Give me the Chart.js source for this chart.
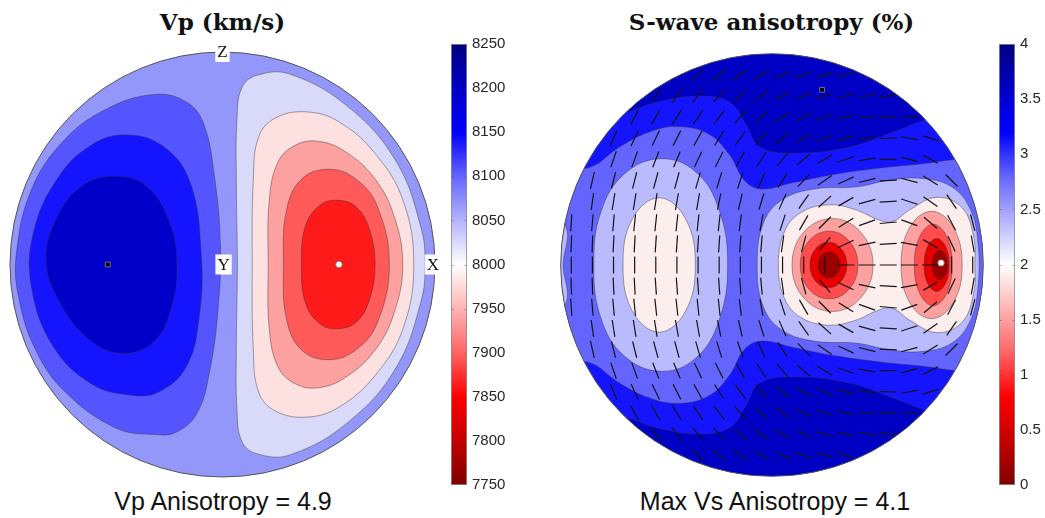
<!DOCTYPE html>
<html><head><meta charset="utf-8">
<script src="https://cdn.jsdelivr.net/npm/chart.js@4.4.0/dist/chart.umd.min.js"></script>
<style>
html,body{margin:0;padding:0;background:#fff;width:1045px;height:518px;overflow:hidden;position:relative;}
canvas{position:absolute;}
.ttl{position:absolute;text-align:center;font-family:"DejaVu Serif",serif;font-weight:bold;font-size:23px;line-height:23px;color:#111;white-space:nowrap;}
.cap{position:absolute;text-align:center;font-family:"Liberation Sans",Arial,sans-serif;font-size:25px;line-height:25px;color:#111;white-space:nowrap;}
</style></head><body>
<div class="ttl" style="left:0;width:445px;top:10px;">Vp (km/s)</div>
<div class="ttl" style="left:549px;width:445px;top:10px;">S-wave anisotropy (%)</div>
<div class="cap" style="left:0;width:446px;top:489px;">Vp Anisotropy = 4.9</div>
<div class="cap" style="left:552px;width:446px;top:489px;">Max Vs Anisotropy = 4.1</div>
<canvas id="vp" width="441" height="441" style="left:2px;top:44px;"></canvas>
<canvas id="vpbar" width="67" height="470" style="left:445px;top:30px;"></canvas>
<canvas id="vs" width="442" height="442" style="left:551px;top:44px;"></canvas>
<canvas id="vsbar" width="67" height="470" style="left:993px;top:30px;"></canvas>
<script>
// ---------------- DATA ----------------
const vpTicks = [7750,7800,7850,7900,7950,8000,8050,8100,8150,8200,8250];
const vsTicks = [0,0.5,1,1.5,2,2.5,3,3.5,4];

// Vp contour bands (lower bound, m/s) in drawing order
const vpLevels = [8050, 8100, 8150, 8200, 8000, 7950, 7900, 7850, 7800];
const vpBand8050 = [[-1.1,-1.1],[1.1,-1.1],[1.1,1.1],[-1.1,1.1]];
const vpBand8100 = [[-0.32,0.80],[-0.17,0.765],[-0.09,0.665],[-0.04,0.43],[-0.01,0.1],[-0.02,-0.2],[-0.06,-0.5],[-0.12,-0.7],[-0.22,-0.79],[-0.32,-0.80],[-0.5,-0.77],[-0.74,-0.6],[-0.88,-0.4],[-0.96,-0.15],[-0.97,0.05],[-0.9,0.35],[-0.75,0.58],[-0.55,0.73]];
const vpBand8150 = [[-0.45,0.61],[-0.27,0.55],[-0.15,0.38],[-0.1,0.05],[-0.11,-0.25],[-0.17,-0.48],[-0.3,-0.6],[-0.43,-0.615],[-0.62,-0.56],[-0.8,-0.38],[-0.9,-0.1],[-0.89,0.15],[-0.78,0.4],[-0.62,0.56]];
const vpBand8200 = [[-0.51,0.415],[-0.36,0.37],[-0.25,0.2],[-0.215,0.0],[-0.24,-0.2],[-0.32,-0.36],[-0.47,-0.418],[-0.63,-0.35],[-0.77,-0.17],[-0.83,0.02],[-0.78,0.22],[-0.66,0.37]];
const vpBand8000 = [[0.07,0.0],[0.065,0.4],[0.068,0.68],[0.09,0.83],[0.16,0.89],[0.32,0.895],[0.6,0.735],[0.82,0.48],[0.935,0.17],[0.953,0.0],[0.935,-0.17],[0.82,-0.48],[0.6,-0.735],[0.32,-0.895],[0.16,-0.89],[0.09,-0.83],[0.068,-0.68],[0.065,-0.4]];
const vpBand7950 = [[0.14,0.0],[0.145,0.4],[0.17,0.6],[0.25,0.69],[0.4,0.718],[0.55,0.67],[0.72,0.52],[0.85,0.3],[0.9,0.0],[0.85,-0.3],[0.72,-0.52],[0.55,-0.67],[0.4,-0.718],[0.25,-0.69],[0.17,-0.6],[0.145,-0.4]];
const vpBand7900 = [[0.215,0],[0.22,0.3],[0.26,0.48],[0.34,0.56],[0.45,0.58],[0.58,0.53],[0.72,0.4],[0.81,0.22],[0.848,0],[0.81,-0.22],[0.72,-0.4],[0.58,-0.53],[0.45,-0.58],[0.34,-0.56],[0.26,-0.48],[0.22,-0.3]];
const vpBand7850 = [[0.287,0],[0.3,0.25],[0.37,0.4],[0.5,0.448],[0.63,0.4],[0.73,0.27],[0.785,0],[0.73,-0.27],[0.63,-0.4],[0.5,-0.448],[0.37,-0.4],[0.3,-0.25]];
const vpBand7800 = [[0.372,0],[0.39,0.18],[0.46,0.28],[0.545,0.302],[0.63,0.27],[0.69,0.17],[0.718,0],[0.69,-0.17],[0.63,-0.27],[0.545,-0.302],[0.46,-0.28],[0.39,-0.18]];
const vpMaxDir = [-0.54, 0.0];
const vpMinDir = [0.548, 0.0];
const vpAxisLabels = ['Z','Y','X'];
const vpAxisDirs = [[0,1],[0.005,0],[0.99,0]];

// S-wave anisotropy contour bands (lower bound, %) in drawing order
const vsLevels = [3, 3.5, 3.5, 2.5, 2, 2, 2, 1.5, 1.5, 1, 1, 0.5, 0.5, 0.25, 0.25, 0, 0];
const vsBase = [[-1.1,-1.1],[1.1,-1.1],[1.1,1.1],[-1.1,1.1]];
const vsTopCap = [[-0.72,0.72],[-0.55,0.77],[-0.35,0.8],[-0.2,0.77],[-0.12,0.66],[-0.06,0.56],[0.1,0.53],[0.37,0.56],[0.6,0.64],[0.74,0.69],[1.1,0.75],[1.1,1.1],[-1.1,1.1],[-1.1,0.75]];
const vsBottomCap = [[-0.72,-0.72],[-0.55,-0.77],[-0.35,-0.8],[-0.2,-0.77],[-0.12,-0.66],[-0.06,-0.56],[0.1,-0.53],[0.37,-0.56],[0.6,-0.64],[0.74,-0.69],[1.1,-0.75],[1.1,-1.1],[-1.1,-1.1],[-1.1,-0.75]];
const vsMidBand = [[-1.1,0.45],[-0.87,0.46],[-0.72,0.56],[-0.58,0.63],[-0.445,0.655],[-0.3,0.62],[-0.2,0.52],[-0.13,0.4],[-0.05,0.36],[0.1,0.39],[0.3,0.43],[0.52,0.46],[0.72,0.48],[0.87,0.5],[1.1,0.52],[1.1,-0.52],[0.87,-0.5],[0.72,-0.48],[0.52,-0.46],[0.3,-0.43],[0.1,-0.39],[-0.05,-0.36],[-0.13,-0.4],[-0.2,-0.52],[-0.3,-0.62],[-0.445,-0.655],[-0.58,-0.63],[-0.72,-0.56],[-0.87,-0.46],[-1.1,-0.45]];
const vsEdgeSliver = [[-1.1,0.3],[-0.975,0.18],[-0.988,0],[-0.975,-0.18],[-1.1,-0.3]];
const vsLeftLobe = [[-0.843,0],[-0.81,0.25],[-0.7,0.43],[-0.526,0.503],[-0.36,0.44],[-0.25,0.26],[-0.21,0],[-0.25,-0.26],[-0.36,-0.44],[-0.526,-0.503],[-0.7,-0.43],[-0.81,-0.25]];
const vsRightLobe = [[-0.07,0],[-0.04,0.2],[0.05,0.31],[0.2,0.36],[0.4,0.37],[0.55,0.4],[0.7,0.41],[0.85,0.37],[0.94,0.26],[0.975,0.1],[0.975,-0.1],[0.94,-0.26],[0.85,-0.37],[0.7,-0.41],[0.55,-0.4],[0.4,-0.37],[0.2,-0.36],[0.05,-0.31],[-0.04,-0.2]];
const vsLeftCore = [[-0.705,0],[-0.66,0.22],[-0.534,0.318],[-0.41,0.22],[-0.363,0],[-0.41,-0.22],[-0.534,-0.318],[-0.66,-0.22]];
const vsRightCore = [[0.03,0],[0.06,0.16],[0.14,0.25],[0.27,0.285],[0.4,0.26],[0.5,0.215],[0.57,0.205],[0.65,0.26],[0.78,0.32],[0.9,0.27],[0.955,0.13],[0.96,0],[0.955,-0.13],[0.9,-0.27],[0.78,-0.32],[0.65,-0.26],[0.57,-0.205],[0.5,-0.215],[0.4,-0.26],[0.27,-0.285],[0.14,-0.25],[0.06,-0.16]];
const vsPinkL = [[0.478,0],[0.42,0.155],[0.286,0.22],[0.15,0.155],[0.095,0],[0.15,-0.155],[0.286,-0.22],[0.42,-0.155]];
const vsPinkR = [[0.9,0],[0.857,0.18],[0.755,0.254],[0.653,0.18],[0.611,0],[0.653,-0.18],[0.755,-0.254],[0.857,-0.18]];
const vsSalmonL = [[0.406,0],[0.366,0.113],[0.27,0.16],[0.174,0.113],[0.134,0],[0.174,-0.113],[0.27,-0.16],[0.366,-0.113]];
const vsSalmonR = [[0.852,0],[0.826,0.136],[0.763,0.193],[0.7,0.136],[0.674,0],[0.7,-0.136],[0.763,-0.193],[0.826,-0.136]];
const vsRedL = [[0.354,0],[0.328,0.076],[0.267,0.108],[0.206,0.076],[0.18,0],[0.206,-0.076],[0.267,-0.108],[0.328,-0.076]];
const vsRedR = [[0.838,0],[0.821,0.088],[0.779,0.125],[0.737,0.088],[0.72,0],[0.737,-0.088],[0.779,-0.125],[0.821,-0.088]];
const vsDarkL = [[0.322,0],[0.307,0.044],[0.27,0.062],[0.233,0.044],[0.218,0],[0.233,-0.044],[0.27,-0.062],[0.307,-0.044]];
const vsDarkR = [[0.83,0],[0.819,0.05],[0.794,0.07],[0.769,0.05],[0.758,0],[0.769,-0.05],[0.794,-0.07],[0.819,-0.05]];
const vsMaxDir = [0.237, 0.829];
const vsMinDir = [0.8, 0.01];

// fast-shear polarisation directions (degrees, counter-clockwise from east)
const vsTickX = [-0.95,-0.85,-0.75,-0.65,-0.55,-0.45,-0.35,-0.25,-0.15,-0.05,0.05,0.15,0.25,0.35,0.45,0.55,0.65,0.75,0.85,0.95];
const vsTickY = [0.9,0.8,0.7,0.6,0.5,0.4,0.3,0.2,0.1,0,-0.1,-0.2,-0.3,-0.4,-0.5,-0.6,-0.7,-0.8,-0.9];
const n = null;
const vsTickAngles = [
 [n,n,n,n,n,n,45,42,38,32,26,21,17,14,n,n,n,n,n,n],
 [n,n,n,n,56,53,50,46,42,37,29,23,17,12,7,4,n,n,n,n],
 [n,n,n,62,60,58,56,52,48,43,35,26,18,11,6,2,176,n,n,n],
 [n,n,66,65,64,63,61,58,54,49,42,33,24,16,9,2,170,162,n,n],
 [n,n,71,70,69,67,65,63,61,57,50,40,30,20,10,178,165,152,n,n],
 [n,77,76,76,75,75,74,73,71,67,58,46,35,25,14,3,165,148,135,n],
 [n,82,81,81,81,80,80,79,77,73,66,55,42,30,15,3,162,145,125,n],
 [86,85,85,84,84,84,84,84,83,80,72,60,45,32,20,5,160,140,118,105],
 [88,88,87,87,86,86,86,86,86,85,82,75,50,25,12,3,170,150,115,100],
 [90,90,90,90,90,90,90,90,90,90,90,90,90,0,0,0,0,0,90,90],
 [92,92,93,93,94,94,94,94,94,95,98,105,130,155,168,177,10,30,65,80],
 [94,95,95,96,96,96,96,96,97,100,108,120,135,148,160,175,20,40,62,75],
 [n,98,99,99,99,100,100,101,103,107,114,125,138,150,165,177,18,35,55,n],
 [n,103,104,104,105,105,106,107,109,113,122,134,145,155,166,177,15,32,45,n],
 [n,n,109,110,111,113,115,117,119,123,130,140,150,160,170,2,15,28,n,n],
 [n,n,114,115,116,117,119,122,126,131,138,147,156,164,171,178,10,18,n,n],
 [n,n,n,118,120,122,124,128,132,137,145,154,162,169,174,178,4,n,n,n],
 [n,n,n,n,124,127,130,134,138,143,151,157,163,168,173,176,n,n,n,n],
 [n,n,n,n,n,n,135,138,142,148,154,159,163,166,n,n,n,n,n,n]
];

// ---------------- STYLE ----------------
const vpBandColors = {8200:'#0000c8',8150:'#1414ff',8100:'#5555ff',8050:'#9497fa',8000:'#d9daf9',7950:'#fde0e0',7900:'#fca0a0',7850:'#ff5a5a',7800:'#ff1a1a'};
const vsBandColors = {3.5:'#0000c4',3:'#1414ff',2.5:'#6464ff',2:'#babaff',1.5:'#fdeeee',1:'#fca0a0',0.5:'#ff4c4c',0.25:'#e80000',0:'#9a0000'};
const cmapStops = [[0,'#7f0000'],[0.1,'#c40000'],[0.2,'#ff0000'],[0.3,'#ff6464'],[0.4,'#ffb4b4'],[0.5,'#ffffff'],[0.6,'#b4b4ff'],[0.7,'#6464ff'],[0.8,'#0000ff'],[0.9,'#0000c4'],[1,'#00007f']];

// ---------------- BUILD ----------------
function bandDataset(pts, color, order, smooth) {
  return {
    type: 'line', data: pts.map(p => ({x: p[0], y: p[1]})), closed: true,
    fill: 'shape', backgroundColor: color,
    borderColor: smooth ? 'rgba(50,50,50,0.55)' : 'rgba(0,0,0,0)', borderWidth: smooth ? 0.8 : 0,
    pointRadius: 0, pointHoverRadius: 0, tension: smooth ? 0.4 : 0,
    spanGaps: true, capBezierPoints: false, order: order
  };
}
const loopPlugin = {
  id: 'loopShapes',
  afterDatasetUpdate(chart, args) {
    const ds = chart.data.datasets[args.index];
    const line = args.meta.dataset;
    if (ds.closed && line) {
      line._loop = true; line._fullLoop = true;
      line._pointsUpdated = false; delete line._segments; line._path = undefined;
    }
  }
};
const circlePlugin = {
  id: 'circleClip',
  beforeDatasetsDraw(chart) {
    const {ctx, scales: {x, y}} = chart;
    const cx = x.getPixelForValue(0), cy = y.getPixelForValue(0), r = x.getPixelForValue(1) - cx;
    ctx.save(); ctx.beginPath(); ctx.arc(cx, cy, r, 0, 2 * Math.PI); ctx.clip();
  },
  afterDatasetsDraw(chart) {
    const {ctx, scales: {x, y}} = chart;
    ctx.restore();
    const cx = x.getPixelForValue(0), cy = y.getPixelForValue(0), r = x.getPixelForValue(1) - cx;
    ctx.save(); ctx.beginPath(); ctx.arc(cx, cy, r, 0, 2 * Math.PI);
    ctx.strokeStyle = '#555'; ctx.lineWidth = 1; ctx.stroke(); ctx.restore();
  }
};
function axisLabelPlugin(labels, dirs) {
  return {
    id: 'axisLabels',
    afterDraw(chart) {
      const {ctx, scales: {x, y}} = chart;
      ctx.save();
      ctx.font = '17px "Liberation Serif", serif';
      ctx.textAlign = 'center'; ctx.textBaseline = 'middle';
      labels.forEach((t, i) => {
        const px = x.getPixelForValue(dirs[i][0]), py = y.getPixelForValue(dirs[i][1]);
        const w = ctx.measureText(t).width + 4;
        ctx.fillStyle = '#fff'; ctx.fillRect(px - w / 2, py - 10, w, 20);
        ctx.fillStyle = '#111'; ctx.fillText(t, px, py + 1);
      });
      ctx.restore();
    }
  };
}
function netOptions() {
  return {
    responsive: false, animation: false, events: [],
    layout: {padding: 8},
    plugins: {legend: {display: false}, tooltip: {enabled: false}},
    scales: {
      x: {type: 'linear', min: -1, max: 1, display: false},
      y: {type: 'linear', min: -1, max: 1, display: false}
    }
  };
}
function markerSets(maxDir, minDir) {
  return [
    {type: 'scatter', data: [{x: maxDir[0], y: maxDir[1]}], pointStyle: 'rect', pointRadius: 3.4,
     backgroundColor: '#000', borderColor: '#8a8a8a', borderWidth: 0.8, order: 0},
    {type: 'scatter', data: [{x: minDir[0], y: minDir[1]}], pointStyle: 'circle', pointRadius: 3.2,
     backgroundColor: '#fff', borderColor: '#777', borderWidth: 0.8, order: 0}
  ];
}

// Vp stereonet
const vpShapes = [vpBand8050, vpBand8100, vpBand8150, vpBand8200, vpBand8000, vpBand7950, vpBand7900, vpBand7850, vpBand7800];
const vpDatasets = vpShapes.map((pts, i) => bandDataset(pts, vpBandColors[vpLevels[i]], 100 - i, i > 0));
new Chart(document.getElementById('vp'), {
  type: 'scatter',
  data: {datasets: vpDatasets.concat(markerSets(vpMaxDir, vpMinDir))},
  options: netOptions(),
  plugins: [loopPlugin, circlePlugin, axisLabelPlugin(vpAxisLabels, vpAxisDirs)]
});

// Vs anisotropy stereonet
const vsShapes = [vsBase, vsTopCap, vsBottomCap, vsMidBand, vsEdgeSliver, vsLeftLobe, vsRightLobe, vsLeftCore, vsRightCore, vsPinkL, vsPinkR, vsSalmonL, vsSalmonR, vsRedL, vsRedR, vsDarkL, vsDarkR];
const vsDatasets = vsShapes.map((pts, i) => bandDataset(pts, vsBandColors[vsLevels[i]], 100 - i, i > 0));
const tickPts = [], tickRot = [];
vsTickY.forEach((ty, r) => vsTickX.forEach((tx, c) => {
  const a = vsTickAngles[r][c];
  if (a !== null) { tickPts.push({x: tx, y: ty}); tickRot.push(-a); }
}));
vsDatasets.push({type: 'scatter', data: tickPts, pointStyle: 'line', pointRadius: 8.5, pointRotation: tickRot,
  borderColor: '#151515', pointBorderColor: '#151515', pointBorderWidth: 1.2, borderWidth: 1.2, order: 2});
new Chart(document.getElementById('vs'), {
  type: 'scatter',
  data: {datasets: vsDatasets.concat(markerSets(vsMaxDir, vsMinDir))},
  options: netOptions(),
  plugins: [loopPlugin, circlePlugin]
});

// colorbars
const cbFrame = {
  id: 'cbFrame',
  afterDatasetsDraw(chart) {
    const {ctx, chartArea: a, scales: {y}} = chart;
    ctx.save();
    ctx.strokeStyle = 'rgba(70,70,70,0.45)'; ctx.lineWidth = 0.8;
    y.ticks.forEach(t => {
      const py = Math.round(y.getPixelForValue(t.value)) + 0.5;
      if (py < a.top + 2 || py > a.bottom - 2) return;
      ctx.beginPath(); ctx.moveTo(a.left, py); ctx.lineTo(a.left + 3, py);
      ctx.moveTo(a.right, py); ctx.lineTo(a.right - 3, py); ctx.stroke();
    });
    ctx.strokeStyle = '#8c8c8c'; ctx.lineWidth = 0.8;
    ctx.strokeRect(a.left + 0.4, a.top + 0.4, a.right - a.left - 0.8, a.bottom - a.top - 0.8);
    ctx.restore();
  }
};
function colorbar(id, ticks) {
  const mn = ticks[0], mx = ticks[ticks.length - 1];
  new Chart(document.getElementById(id), {
    type: 'bar',
    data: {labels: [''], datasets: [{
      data: [[mn, mx]], barPercentage: 1, categoryPercentage: 1, borderWidth: 0,
      backgroundColor: (c) => {
        const a = c.chart.chartArea; if (!a) return '#fff';
        const g = c.chart.ctx.createLinearGradient(0, a.bottom, 0, a.top);
        cmapStops.forEach(s => g.addColorStop(s[0], s[1]));
        return g;
      }
    }]},
    options: {
      responsive: false, animation: false, events: [],
      layout: {padding: {left: 6, top: 13, bottom: 15, right: 0}},
      plugins: {legend: {display: false}, tooltip: {enabled: false}},
      scales: {
        x: {display: false},
        y: {position: 'right', min: mn, max: mx,
            afterFit(s) { s.width = 45; },
            afterBuildTicks(s) { s.ticks = ticks.map(v => ({value: v})); },
            ticks: {padding: 5, color: '#262626', font: {family: 'Liberation Sans', size: 15}, callback: v => String(v)},
            grid: {display: false, drawTicks: false}, border: {display: false}}
      }
    },
    plugins: [cbFrame]
  });
}
colorbar('vpbar', vpTicks);
colorbar('vsbar', vsTicks);
</script>
</body></html>
